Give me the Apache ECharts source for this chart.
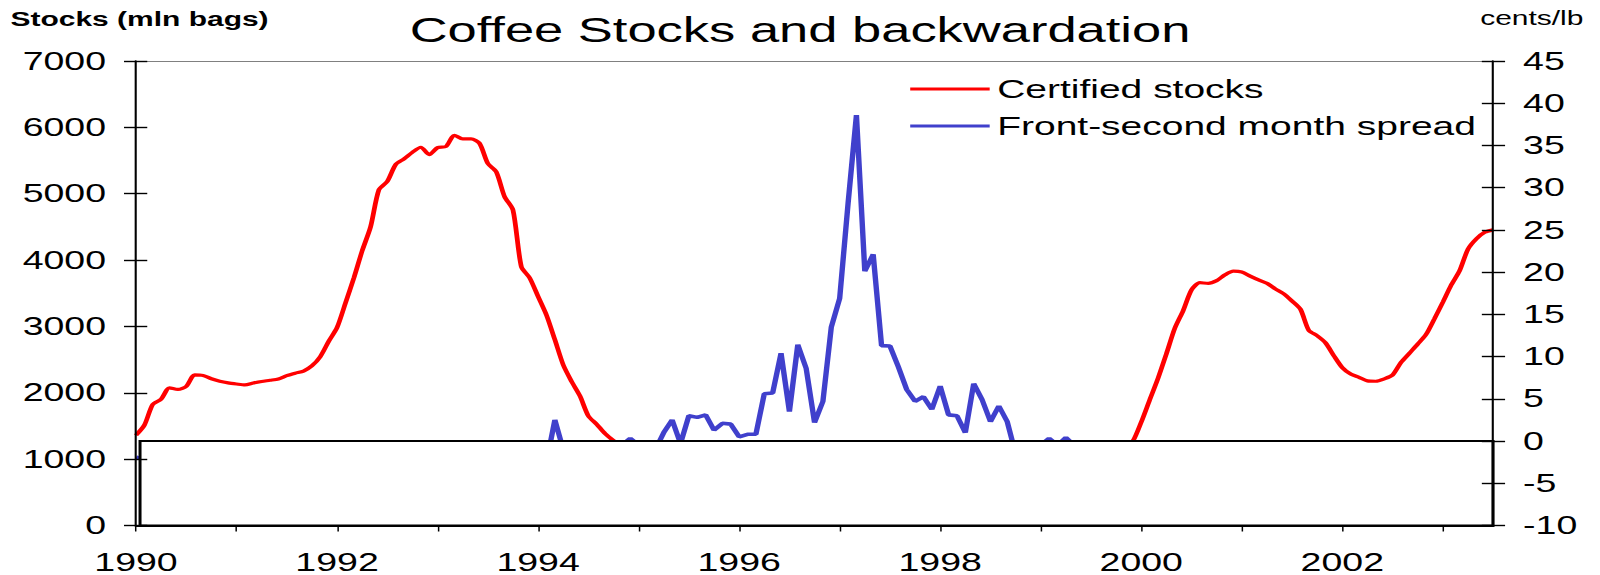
<!DOCTYPE html>
<html><head><meta charset="utf-8">
<script src="https://cdn.jsdelivr.net/npm/echarts@6/dist/echarts.min.js"></script>
<style>
html,body{margin:0;padding:0;background:#fff;overflow:hidden}
#wrap{width:1600px;height:575px;overflow:hidden}
#c{width:1067px;height:575px;transform:scaleX(1.49953);transform-origin:0 0}
</style></head><body><div id="wrap"><div id="c"></div></div>
<script>
// ---- data (monthly, starting Jan 1990) ----
const startYear = 1990;
const seriesNames = ['Certified stocks', 'Front-second month spread'];
const xLabelYears = [1990, 1992, 1994, 1996, 1998, 2000, 2002];
const leftTicks = [0, 1000, 2000, 3000, 4000, 5000, 6000, 7000];
const rightTicks = [-10, -5, 0, 5, 10, 15, 20, 25, 30, 35, 40, 45];
const N = null;
// Certified stocks (left axis); values below the box are hidden in the source
const stocks = [
  1360,1512,1825,1905,2075,2050,2097,2270,2262,2212,2175,2150,
  2133,2119,2147,2170,2188,2208,2258,2295,2327,2406,2546,2774,
  2983,3350,3727,4140,4500,5060,5185,5440,5526,5625,5700,5590,
  5695,5712,5880,5825,5825,5760,5455,5330,4955,4755,3900,3730,
  3450,3170,2800,2420,2169,1950,1650,1525,1384,1280,1200,N,
  N,N,N,N,N,N,N,N,N,N,N,N,
  N,N,N,N,N,N,N,N,N,N,N,N,
  N,N,N,N,N,N,N,N,N,N,N,N,
  N,N,N,N,N,N,N,N,N,N,N,N,
  N,N,N,N,N,N,N,N,N,N,1150,1270,
  1558,1890,2217,2587,2970,3237,3550,3659,3650,3690,3778,3833,
  3820,3758,3701,3650,3566,3493,3383,3260,2941,2860,2752,2557,
  2379,2282,2233,2179,2174,2210,2268,2456,2595,2733,2879,3116,
  3363,3623,3838,4163,4319,4418,4455
];
// Front-second month spread (right axis, cents/lb)
const spread = [
  -1.9,-2.2,N,N,N,N,N,N,N,N,N,N,
  N,N,N,N,N,N,N,N,N,N,N,N,
  N,N,N,N,N,N,N,N,N,N,N,N,
  N,N,N,N,N,N,N,N,N,N,N,N,
  N,-2.5,2.5,-1,N,N,N,N,N,N,-0.5,0.3,
  -0.5,N,-1,1.0,2.5,-0.3,3.0,2.8,3.1,1.3,2.1,2.0,
  0.5,0.8,0.8,5.6,5.7,10.4,3.5,11.4,8.6,2.2,4.7,13.5,
  16.9,28.1,38.6,20.1,22.1,11.3,11.25,8.8,6.1,4.7,5.25,3.75,
  6.5,3.1,3.0,1.0,6.8,4.9,2.3,4.15,2.3,-1.5,N,N,
  -0.5,0.3,-0.5,0.4,-0.5,N,N,N,N,N,N,N,
  N,N,N,N,N,N,N,N,N,N,N,N,
  N,N,N,N,N,N,N,N,N,N,N,N,
  N,N,N,N,N,N,N,N,N,N,N,N,
  N,N,N,N,N,-2.5,-2.5
];

const toPairs = arr => arr.map((v, i) => [startYear + i / 12, v]);
const xMin = startYear, xMax = startYear + (stocks.length - 1) / 12;
const FF = '"Liberation Sans", Arial, Helvetica, sans-serif';
const RED = '#ff0000', BLUE = '#4040cc';

const chart = echarts.init(document.getElementById('c'), null, {renderer: 'svg'});
const tickYAxis = (pos, min, max, step, idx, inside, withLabel) => ({
  type: 'value', position: pos, min: min, max: max, interval: step, z: 10,
  axisLine: {show: !inside, onZero: false, lineStyle: {color: '#000', width: 1.4}},
  axisTick: {show: true, inside: inside, length: inside ? 7.5 : 8, lineStyle: {color: '#000', width: 1.4}},
  axisLabel: withLabel ? {show: true, margin: 20, color: '#000', fontSize: 25, fontFamily: FF,
      formatter: v => ((idx === 0 ? leftTicks : rightTicks).includes(v) ? String(v) : '')} : {show: false},
  splitLine: {show: false}
});
chart.setOption({
  animation: false,
  backgroundColor: '#fff',
  title: [
    {text: 'Coffee Stocks and backwardation', left: 'center', top: 12, padding: 0,
     textStyle: {fontSize: 35, fontWeight: 'normal', color: '#000', fontFamily: FF}},
    {text: 'Stocks (mln bags)', left: 7, top: 9, padding: 0,
     textStyle: {fontSize: 20, fontWeight: 'bold', color: '#000', fontFamily: FF}},
    {text: 'cents/lb', right: 11, top: 8, padding: 0,
     textStyle: {fontSize: 20, fontWeight: 'normal', color: '#000', fontFamily: FF}}
  ],
  legend: {
    orient: 'vertical', left: 607, top: 76, itemWidth: 53, itemHeight: 3, itemGap: 11,
    padding: 0, icon: 'rect',
    data: seriesNames,
    textStyle: {fontSize: 26, color: '#000', fontFamily: FF}
  },
  grid: {left: 90.7, right: 71.3, top: 61, bottom: 49.5, containLabel: false, outerBoundsMode: 'none'},
  xAxis: [
    {type: 'value', min: xMin, max: xMax, interval: 1, position: 'bottom', z: 10,
     axisLine: {onZero: false, lineStyle: {color: '#000', width: 2}},
     axisTick: {length: 6, lineStyle: {color: '#000', width: 1}},
     axisLabel: {margin: 24, color: '#000', fontSize: 25, fontFamily: FF, showMaxLabel: false,
       formatter: v => (xLabelYears.includes(v) ? String(v) : '')},
     splitLine: {show: false}},
    {type: 'value', min: xMin, max: xMax, position: 'top',
     axisLine: {onZero: false, lineStyle: {color: '#808080', width: 1}},
     axisTick: {show: false}, axisLabel: {show: false}, splitLine: {show: false}}
  ],
  yAxis: [
    tickYAxis('left', 0, 7000, 1000, 0, false, true),
    tickYAxis('right', -10, 45, 5, 1, false, true),
    tickYAxis('left', 0, 7000, 1000, 0, true, false),
    tickYAxis('right', -10, 45, 5, 1, true, false)
  ],
  series: [
    {name: seriesNames[0], type: 'line', xAxisIndex: 0, yAxisIndex: 0, data: toPairs(stocks),
     symbol: 'none', connectNulls: false, z: 3, smooth: 0.25,
     itemStyle: {color: RED}, lineStyle: {color: RED, width: 3.2}},
    {name: seriesNames[1], type: 'line', xAxisIndex: 0, yAxisIndex: 1, data: toPairs(spread),
     symbol: 'none', connectNulls: false, z: 2,
     itemStyle: {color: BLUE}, lineStyle: {color: BLUE, width: 3.6},
     markArea: {silent: true, z: 6,
       itemStyle: {color: '#ffffff', opacity: 1, borderColor: '#000', borderWidth: 2},
       label: {show: false}, emphasis: {disabled: true},
       data: [[{xAxis: xMin + 0.04, yAxis: -10}, {xAxis: xMax, yAxis: 0}]]}}
  ]
});
</script></body></html>
